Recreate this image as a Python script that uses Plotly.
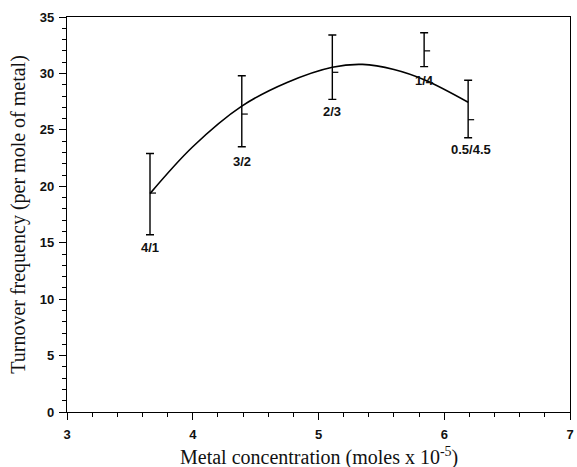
import plotly.graph_objects as go

# Measured turnover frequencies with asymmetric error bars
ratio_labels = ["4/1", "3/2", "2/3", "1/4", "0.5/4.5"]
metal_conc = [3.66, 4.39, 5.11, 5.84, 6.19]
tof_mean = [19.4, 26.4, 30.1, 32.0, 25.9]
tof_high = [22.9, 29.8, 33.4, 33.6, 29.4]
tof_low = [15.7, 23.5, 27.7, 30.6, 24.3]

# Label placement (data coordinates)
label_x = [3.66, 4.39, 5.11, 5.84, 6.21]
label_y = [14.6, 22.2, 26.6, 29.35, 23.3]

# Fitted trend curve
fit_x = [3.66, 4.00, 4.39, 4.75, 5.11, 5.35, 5.60, 5.85, 6.19]
fit_y = [19.35, 23.5, 27.1, 29.2, 30.55, 30.8, 30.35, 29.4, 27.45]

# Axis ticks
x_ticks = [3, 4, 5, 6, 7]
y_ticks = [0, 5, 10, 15, 20, 25, 30, 35]

x_title = "Metal concentration (moles x 10<sup>-5</sup>)"
y_title = "Turnover frequency (per mole of metal)"

err_plus = [h - m for h, m in zip(tof_high, tof_mean)]
err_minus = [m - l for m, l in zip(tof_mean, tof_low)]

label_font = dict(family="Liberation Sans", size=13, color="#111", weight="bold")
title_font = dict(family="Liberation Serif", size=20, color="#111")

fig = go.Figure()

fig.add_trace(go.Scatter(
    x=fit_x, y=fit_y, mode="lines",
    line=dict(color="black", width=1.6, shape="spline", smoothing=1.0),
    hoverinfo="skip", showlegend=False,
))

fig.add_trace(go.Scatter(
    x=metal_conc, y=tof_mean, mode="markers",
    marker=dict(size=1, color="rgba(0,0,0,0)"),
    error_y=dict(type="data", symmetric=False, array=err_plus, arrayminus=err_minus,
                 color="black", thickness=1.4, width=4),
    showlegend=False,
))

# Short mean tick on the right side of each error bar
shapes = []
for xv, yv in zip(metal_conc, tof_mean):
    shapes.append(dict(type="line", xref="x", yref="y", xsizemode="pixel",
                       xanchor=xv, x0=0, x1=6, y0=yv, y1=yv,
                       line=dict(color="black", width=1.2)))

annotations = []
for xv, yv, txt in zip(label_x, label_y, ratio_labels):
    annotations.append(dict(x=xv, y=yv, xref="x", yref="y", text=txt, showarrow=False,
                            font=label_font, xanchor="center", yanchor="middle"))

# X-axis title placed just under the tick labels
annotations.append(dict(x=0.5, y=-0.113, xref="paper", yref="paper", text=x_title,
                        showarrow=False, font=title_font, xanchor="center", yanchor="middle"))

axis_common = dict(
    showline=True, linecolor="black", linewidth=1.2, mirror=True,
    ticks="outside", tickcolor="black", tickwidth=1.2, ticklen=7,
    showgrid=False, zeroline=False,
    tickfont=label_font, ticklabeloverflow="allow",
)

fig.update_layout(
    width=577, height=467,
    margin=dict(l=67, r=3, t=17, b=55),
    paper_bgcolor="white", plot_bgcolor="white",
    shapes=shapes, annotations=annotations,
    xaxis=dict(
        range=[3, 7], tickvals=x_ticks, ticklabelstandoff=3,
        minor=dict(dtick=0.2, ticks="outside", ticklen=4, tickcolor="black", tickwidth=1),
        **axis_common,
    ),
    yaxis=dict(
        range=[0, 35], tickvals=y_ticks, ticklabelstandoff=2,
        minor=dict(dtick=1, ticks="outside", ticklen=4, tickcolor="black", tickwidth=1),
        title=dict(text=y_title, font=title_font, standoff=8),
        **axis_common,
    ),
)

fig.write_html("out.html")
